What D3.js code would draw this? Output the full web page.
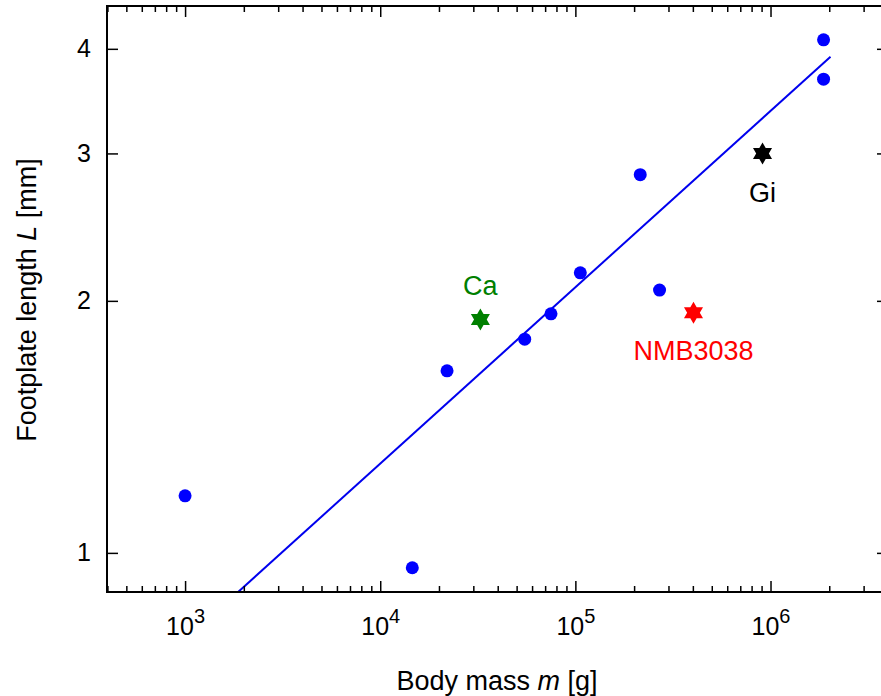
<!DOCTYPE html>
<html>
<head>
<meta charset="utf-8">
<script src="https://cdn.jsdelivr.net/npm/d3@7"></script>
<style>
  body { margin: 0; background: #fff; }
  svg { display: block; font-family: "Liberation Sans", Arial, Helvetica, sans-serif; }
</style>
</head>
<body>
<script>
// measured species (blue dots)
var bodyMass = [1000, 14600, 22000, 55000, 75000, 106000, 215000, 270000, 1870000, 1870000];
var footLength = [1.17, 0.96, 1.65, 1.80, 1.93, 2.16, 2.83, 2.06, 4.10, 3.68];

// named specimens (stars)
var starNames = ["Ca", "NMB3038", "Gi"];
var starMass = [32600, 403000, 910000];
var starLength = [1.90, 1.935, 3.0];
var starColors = ["#008000", "#ff0000", "#000000"];

// fitted power law, end points
var fitMass = [1870, 2030000];
var fitLength = [0.898, 3.914];

// ticks
var xMajor = [1e3, 1e4, 1e5, 1e6];
var xExp = ["3", "4", "5", "6"];
var yMajor = [1, 2, 3, 4];

var w = 881;
var h = 696;
var pl = 107, pr = 888, pt = 6, pb = 592; // plot box

var x = d3.scaleLog().domain([398, 4.0e6]).range([pl, pr]);
var y = d3.scaleLog().domain([0.898, 4.5]).range([pb, pt]);

// minor ticks 2..9 for each decade
var xMinor = [];
[1e2, 1e3, 1e4, 1e5, 1e6].forEach(function(d) {
  for (var k = 2; k <= 9; k++) {
    var v = d * k;
    if (v > 398 && v < 4.0e6) xMinor.push(v);
  }
});

var svg = d3.select("body")
.append("svg")
.attr("width", w)
.attr("height", h);

svg.append("defs").append("clipPath")
.attr("id", "plot")
.append("rect")
.attr("x", pl).attr("y", pt)
.attr("width", pr - pl).attr("height", pb - pt);

// fit line
svg.append("path")
.datum(d3.zip(fitMass, fitLength))
.attr("clip-path", "url(#plot)")
.attr("fill", "none")
.attr("stroke", "#0000ee")
.attr("stroke-width", 2)
.attr("d", d3.line().x(function(d) { return x(d[0]); }).y(function(d) { return y(d[1]); }));

// dots
svg.selectAll("circle.pt")
.data(d3.zip(bodyMass, footLength))
.enter()
.append("circle")
.attr("class", "pt")
.attr("cx", function(d) { return x(d[0]); })
.attr("cy", function(d) { return y(d[1]); })
.attr("r", 6.5)
.attr("fill", "#0000ff");

// six pointed stars
function hexagram(r) {
  var pts = [];
  for (var i = 0; i < 12; i++) {
    var a = -Math.PI / 2 + i * Math.PI / 6;
    var rr = (i % 2 === 0) ? r : r / Math.sqrt(3);
    pts.push([rr * Math.cos(a), rr * Math.sin(a)]);
  }
  return "M" + pts.join("L") + "Z";
}

var labelDy = [-25, 47, 49];
starNames.forEach(function(name, i) {
  var cx = x(starMass[i]), cy = y(starLength[i]);
  svg.append("path")
  .attr("d", hexagram(11))
  .attr("transform", "translate(" + cx + "," + cy + ")")
  .attr("fill", starColors[i]);
  svg.append("text")
  .text(name)
  .attr("x", cx)
  .attr("y", cy + labelDy[i])
  .attr("text-anchor", "middle")
  .attr("font-size", "27px")
  .attr("fill", starColors[i]);
});

// axes
function styleAxis(g) {
  g.select(".domain").remove();
  g.selectAll("line").attr("stroke", "#000").attr("stroke-width", 1.5);
}

svg.append("g")
.attr("transform", "translate(0," + pb + ")")
.call(d3.axisBottom(x).tickValues(xMinor).tickSize(-6).tickFormat(""))
.call(styleAxis);
svg.append("g")
.attr("transform", "translate(0," + pt + ")")
.call(d3.axisTop(x).tickValues(xMinor).tickSize(-6).tickFormat(""))
.call(styleAxis);
svg.append("g")
.attr("transform", "translate(0," + pt + ")")
.call(d3.axisTop(x).tickValues(xMajor).tickSize(-11).tickFormat(""))
.call(styleAxis);

var xb = svg.append("g")
.attr("transform", "translate(0," + pb + ")")
.call(d3.axisBottom(x).tickValues(xMajor).tickSize(-11).tickPadding(18).tickFormat(""))
.call(styleAxis);
xb.selectAll(".tick text")
.attr("font-size", "25px")
.attr("fill", "#000")
.attr("dy", "1em")
.each(function(d, i) {
  var t = d3.select(this);
  t.append("tspan").text("10");
  t.append("tspan").text(xExp[i]).attr("font-size", "20px").attr("dy", "-0.6em");
});

svg.append("g")
.attr("transform", "translate(" + pl + ",0)")
.call(d3.axisLeft(y).tickValues(yMajor).tickSize(-11).tickPadding(16).tickFormat(d3.format("d")))
.call(styleAxis)
.selectAll("text")
.attr("font-size", "25px")
.attr("fill", "#000");

svg.append("g")
.attr("transform", "translate(" + pr + ",0)")
.call(d3.axisRight(y).tickValues(yMajor).tickSize(-11).tickFormat(""))
.call(styleAxis);

// frame
svg.append("rect")
.attr("x", pl).attr("y", pt)
.attr("width", pr - pl).attr("height", pb - pt)
.attr("fill", "none")
.attr("stroke", "#000")
.attr("stroke-width", 2);

// axis titles
var xt = svg.append("text")
.attr("x", 497)
.attr("y", 690)
.attr("text-anchor", "middle")
.attr("font-size", "27px")
.attr("fill", "#000");
xt.append("tspan").text("Body mass ");
xt.append("tspan").text("m").attr("font-style", "italic");
xt.append("tspan").text(" [g]");

var yt = svg.append("text")
.attr("transform", "translate(36,300) rotate(-90)")
.attr("text-anchor", "middle")
.attr("font-size", "27px")
.attr("fill", "#000");
yt.append("tspan").text("Footplate length ");
yt.append("tspan").text("L").attr("font-style", "italic");
yt.append("tspan").text(" [mm]");
</script>
</body>
</html>
